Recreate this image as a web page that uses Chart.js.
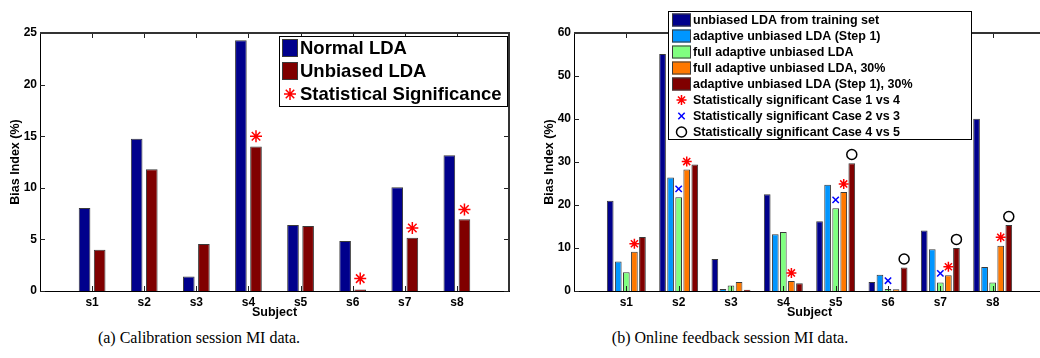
<!DOCTYPE html>
<html>
<head>
<meta charset="utf-8">
<script src="https://cdn.jsdelivr.net/npm/chart.js@4.4.1/dist/chart.umd.min.js"></script>
<style>
  body { margin: 0; background: #fff; width: 1040px; height: 358px; overflow: hidden; position: relative; }
  #calibBox { position: absolute; left: 0; top: 0; width: 520px; height: 325px; }
  #onlineBox { position: absolute; left: 520px; top: 0; width: 520px; height: 325px; overflow: hidden; }
  #onlineInner { width: 540px; height: 325px; }
  .caption { position: absolute; top: 329px; font: 16px "Liberation Serif", serif; color: #000; white-space: nowrap; transform: translateX(-50%); }
</style>
</head>
<body>
<div id="calibBox"><canvas id="calibChart"></canvas></div>
<div id="onlineBox"><div id="onlineInner"><canvas id="onlineChart"></canvas></div></div>
<div class="caption" style="left:199px">(a) Calibration session MI data.</div>
<div class="caption" style="left:730px">(b) Online feedback session MI data.</div>
<script>
const subjects = ['s1', 's2', 's3', 's4', 's5', 's6', 's7', 's8'];

// (a) calibration session
const normalLda   = [8.05, 14.75, 1.4, 24.3, 6.4, 4.85, 10.05, 13.15];
const unbiasedLda = [4.0, 11.8, 4.55, 14.0, 6.3, 0.15, 5.15, 6.95];
const calibSig    = [null, null, null, 15.0, null, 1.2, 6.1, 7.9];

// (b) online feedback session
const fromTraining   = [21.0, 55.1, 7.45, 22.5, 16.2, 2.1, 14.05, 40.05];
const adaptStep1     = [6.85, 26.4, 0.45, 13.2, 24.7, 3.8, 9.7, 5.6];
const fullAdaptive   = [4.35, 21.8, 1.3, 13.75, 19.25, 0.45, 2.0, 1.95];
const fullAdaptive30 = [9.1, 28.25, 2.1, 2.35, 23.0, 0.4, 3.65, 10.5];
const adaptStep1_30  = [12.55, 29.4, 0.3, 1.8, 29.7, 5.45, 10.0, 15.35];
const sig1vs4 = [11.0, 30.1, null, 4.2, 24.9, null, 5.65, 12.5];
const sig2vs3 = [null, 23.75, null, null, 21.2, 2.4, 4.1, null];
const sig4vs5 = [null, null, null, null, 31.75, 7.45, 12.0, 17.3];

Chart.defaults.font.family = '"Liberation Sans", Arial, sans-serif';
Chart.defaults.font.weight = 'bold';
Chart.defaults.color = '#000';
Chart.defaults.animation = false;

// subject i sits at x = i+1 on a 0..9 axis (matlab xlim);
// bar k of a group of n is shifted by (k - (n-1)/2) * groupWidth / n
function groupPoints(values, k, n, groupWidth) {
  const pts = [];
  values.forEach((v, i) => {
    if (v !== null) pts.push({ x: i + 1 + (k - (n - 1) / 2) * groupWidth / n, y: v });
  });
  return pts;
}

// bars are placed by their own x; width = barPct of the gap to the neighbour bar
function barSet(label, values, k, n, groupWidth, color, barPct) {
  return {
    type: 'bar', label: label, data: groupPoints(values, k, n, groupWidth),
    backgroundColor: color, borderColor: '#3a3a3a', borderWidth: 1,
    grouping: false, categoryPercentage: 1, barPercentage: barPct, order: 1
  };
}

function markerSet(label, values, k, n, groupWidth, style, color, r) {
  return {
    type: 'scatter', label: label, data: groupPoints(values, k, n, groupWidth),
    pointStyle: style, pointRadius: r, pointBorderColor: color, pointBackgroundColor: 'rgba(0,0,0,0)',
    pointBorderWidth: 1.5, showLine: false, order: 0
  };
}

// matlab-like box: top/right edges plus inward ticks
const axesFrame = {
  id: 'axesFrame',
  afterDatasetsDraw(chart) {
    const { ctx, chartArea: a, scales } = chart;
    ctx.save();
    ctx.strokeStyle = '#222';
    ctx.lineWidth = 1;
    ctx.beginPath();
    scales.y.ticks.forEach(t => {
      const py = Math.round(scales.y.getPixelForValue(t.value)) + 0.5;
      ctx.moveTo(a.left, py); ctx.lineTo(a.left + 5, py);
      ctx.moveTo(a.right, py); ctx.lineTo(a.right - 5, py);
    });
    for (let i = 1; i <= subjects.length; i++) {
      const px = Math.round(scales.x.getPixelForValue(i)) + 0.5;
      ctx.moveTo(px, a.top); ctx.lineTo(px, a.top + 5);
      ctx.moveTo(px, a.bottom); ctx.lineTo(px, a.bottom - 5);
    }
    ctx.stroke();
    ctx.strokeStyle = '#333';
    ctx.lineWidth = 2;
    ctx.beginPath();
    ctx.moveTo(a.left, a.top); ctx.lineTo(a.right, a.top); ctx.lineTo(a.right, a.bottom);
    ctx.stroke();
    ctx.restore();
  }
};

// boxed legend drawn over the plot
const boxLegend = {
  id: 'boxLegend',
  afterDraw(chart, args, o) {
    const ctx = chart.ctx;
    ctx.save();
    ctx.fillStyle = '#fff';
    ctx.fillRect(o.left, o.top, o.width, o.height);
    ctx.strokeStyle = '#000';
    ctx.lineWidth = 1;
    ctx.strokeRect(o.left + 0.5, o.top + 0.5, o.width, o.height);
    ctx.font = o.font;
    ctx.textBaseline = 'middle';
    chart.data.datasets.forEach((ds, i) => {
      const y = o.top + o.firstRow + i * o.rowHeight;
      const bx = o.left + o.boxLeft;
      if (ds.type === 'bar') {
        ctx.fillStyle = ds.backgroundColor;
        ctx.fillRect(bx, y - o.boxH / 2, o.boxW, o.boxH);
        ctx.strokeStyle = '#3a3a3a';
        ctx.lineWidth = 1;
        ctx.strokeRect(bx + 0.5, y - o.boxH / 2 + 0.5, o.boxW - 1, o.boxH - 1);
      } else {
        ctx.strokeStyle = ds.pointBorderColor;
        ctx.fillStyle = 'rgba(0,0,0,0)';
        ctx.lineWidth = 1.5;
        Chart.helpers.drawPoint(ctx, { pointStyle: ds.pointStyle, radius: ds.pointRadius, rotation: 0, borderWidth: 1.5 }, bx + o.boxW / 2, y);
      }
      ctx.fillStyle = '#000';
      ctx.fillText(ds.label, bx + o.boxW + 2, y + 1);
    });
    ctx.restore();
  }
};

function scalesFor(yMax, yStep, yWidth, titlePad) {
  return {
    x: {
      type: 'linear', min: 0, max: subjects.length + 1, offset: false,
      stacked: true,  // one bar slot per x value, no side-by-side regrouping
      grid: { display: false, drawTicks: false },
      border: { display: true, color: '#000', width: 1 },
      ticks: {
        stepSize: 1, font: { size: 12 }, padding: 4, autoSkip: false, maxRotation: 0,
        callback: v => subjects[v - 1] || ''
      },
      title: { display: true, text: 'Subject', font: { size: 12.5 }, padding: { top: 0, bottom: 0 } },
      afterFit(s) { s.height = 29; }
    },
    y: {
      min: 0, max: yMax,
      grid: { display: false, drawTicks: false },
      border: { display: true, color: '#000', width: 1 },
      ticks: { stepSize: yStep, font: { size: 12 }, padding: 3 },
      title: { display: true, text: 'Bias Index (%)', font: { size: 12.5 }, padding: { top: titlePad, bottom: 0 } },
      afterFit(s) { s.width = yWidth; }
    }
  };
}

const calibGroup = 0.58;
new Chart(document.getElementById('calibChart'), {
  data: {
    datasets: [
      barSet('Normal LDA', normalLda, 0, 2, calibGroup, 'rgb(0,0,140)', 0.77),
      barSet('Unbiased LDA', unbiasedLda, 1, 2, calibGroup, 'rgb(128,0,0)', 0.77),
      markerSet('Statistical Significance', calibSig, 1, 2, calibGroup, 'star', 'rgb(255,0,0)', 6)
    ]
  },
  options: {
    responsive: true, maintainAspectRatio: false,
    layout: { padding: { top: 33, right: 11, bottom: 5, left: 0 } },
    plugins: {
      legend: { display: false }, tooltip: { enabled: false },
      boxLegend: { left: 279, top: 36, width: 228, height: 70, firstRow: 12, rowHeight: 23,
                   boxLeft: 3, boxW: 16, boxH: 18, font: 'bold 18.5px "Liberation Sans"' }
    },
    scales: scalesFor(25, 5, 40, 8)
  },
  plugins: [axesFrame, boxLegend]
});

const onlineGroup = 0.77;
new Chart(document.getElementById('onlineChart'), {
  data: {
    datasets: [
      barSet('unbiased LDA from training set', fromTraining, 0, 5, onlineGroup, 'rgb(0,0,140)', 0.83),
      barSet('adaptive unbiased LDA (Step 1)', adaptStep1, 1, 5, onlineGroup, 'rgb(0,150,255)', 0.83),
      barSet('full adaptive unbiased LDA', fullAdaptive, 2, 5, onlineGroup, 'rgb(128,255,128)', 0.83),
      barSet('full adaptive unbiased LDA, 30%', fullAdaptive30, 3, 5, onlineGroup, 'rgb(255,120,0)', 0.83),
      barSet('adaptive unbiased LDA (Step 1), 30%', adaptStep1_30, 4, 5, onlineGroup, 'rgb(128,0,0)', 0.83),
      markerSet('Statistically significant Case 1 vs 4', sig1vs4, 3, 5, onlineGroup, 'star', 'rgb(255,0,0)', 5),
      markerSet('Statistically significant Case 2 vs 3', sig2vs3, 2, 5, onlineGroup, 'crossRot', 'rgb(0,0,255)', 4.5),
      markerSet('Statistically significant Case 4 vs 5', sig4vs5, 4, 5, onlineGroup, 'circle', '#000', 5)
    ]
  },
  options: {
    responsive: true, maintainAspectRatio: false,
    layout: { padding: { top: 33, right: 15, bottom: 5, left: 0 } },
    plugins: {
      legend: { display: false }, tooltip: { enabled: false },
      boxLegend: { left: 148, top: 11, width: 303, height: 128, firstRow: 9, rowHeight: 16,
                   boxLeft: 4, boxW: 19, boxH: 13, font: 'bold 12.5px "Liberation Sans"' }
    },
    scales: scalesFor(60, 10, 54, 22)
  },
  plugins: [axesFrame, boxLegend]
});
</script>
</body>
</html>
